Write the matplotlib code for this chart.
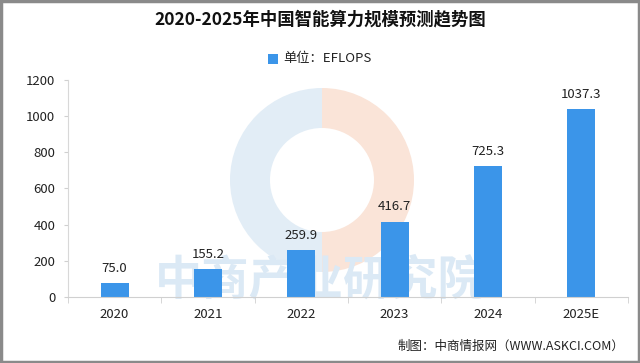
import matplotlib
matplotlib.use("Agg")
import matplotlib.pyplot as plt
from matplotlib.patches import Rectangle, Wedge

plt.rcParams['font.family'] = ['Noto Sans CJK SC', 'DejaVu Sans']

categories = ["2020", "2021", "2022", "2023", "2024", "2025E"]
values = [75.0, 155.2, 259.9, 416.7, 725.3, 1037.3]
labels = ["75.0", "155.2", "259.9", "416.7", "725.3", "1037.3"]
yticks = [0, 200, 400, 600, 800, 1000, 1200]

fig = plt.figure(figsize=(6.4, 3.63), dpi=100)
fig.patch.set_facecolor("white")

# watermark logo (faint)
wm = fig.add_axes([0, 0, 1, 1], zorder=0)
wm.set_xlim(0, 640); wm.set_ylim(363, 0); wm.axis("off")
wm.add_patch(Wedge((322, 180), 92, 90, 270, width=40, facecolor="#e2edf6", edgecolor="none"))
wm.add_patch(Wedge((322, 180), 92, -90, 90, width=40, facecolor="#fae4d8", edgecolor="none"))
wm.text(320, 280, "中商产业研究院", fontsize=34, color="#dbe9f5", ha="center", va="center",
        fontweight="bold")

ax = fig.add_axes([0.106, 0.182, 0.875, 0.598], zorder=1)
ax.patch.set_alpha(0)
x = range(len(categories))
bars = ax.bar(x, values, width=0.3, color="#3b95e9", zorder=2)
for i, (v, l) in enumerate(zip(values, labels)):
    ax.text(i, v + 45, l, ha="center", va="bottom", fontsize=9.5, color="#222222")

ax.set_xlim(-0.5, len(categories) - 0.5)
ax.set_ylim(0, 1200)
ax.set_yticks(yticks)
ax.set_yticklabels([str(t) for t in yticks], fontsize=9.5, color="#222222")
ax.set_xticks(list(x))
ax.set_xticklabels(categories, fontsize=9.5, color="#222222")
ax.tick_params(axis="x", length=0, pad=8)
ax.tick_params(axis="y", length=3, color="#d0d0d0", pad=6)
ax.set_xticks([i - 0.5 for i in range(len(categories) + 1)], minor=True)
ax.tick_params(axis="x", which="minor", length=4, color="#d0d0d0")
for s in ["top", "right"]:
    ax.spines[s].set_visible(False)
ax.spines["left"].set_color("#d8d8d8")
ax.spines["bottom"].set_color("#d0d0d0")

fig.text(0.5, 0.945, "2020-2025年中国智能算力规模预测趋势图", ha="center", va="center",
         fontsize=12.5, fontweight="bold", color="#111111")
fig.patches.append(Rectangle((0.418, 0.825), 0.016, 0.027, transform=fig.transFigure,
                             facecolor="#3b95e9", edgecolor="none"))
fig.text(0.442, 0.84, "单位：EFLOPS", ha="left", va="center", fontsize=9.5, color="#222222")
fig.text(0.975, 0.045, "制图：中商情报网（WWW.ASKCI.COM）", ha="right", va="center",
         fontsize=9, color="#222222")

# gray frame
fig.patches.append(Rectangle((0.002, 0.004), 0.996, 0.992, transform=fig.transFigure,
                             facecolor="none", edgecolor="#8a8a8a", linewidth=2.5))

fig.savefig("out.png", dpi=100, facecolor="white")
